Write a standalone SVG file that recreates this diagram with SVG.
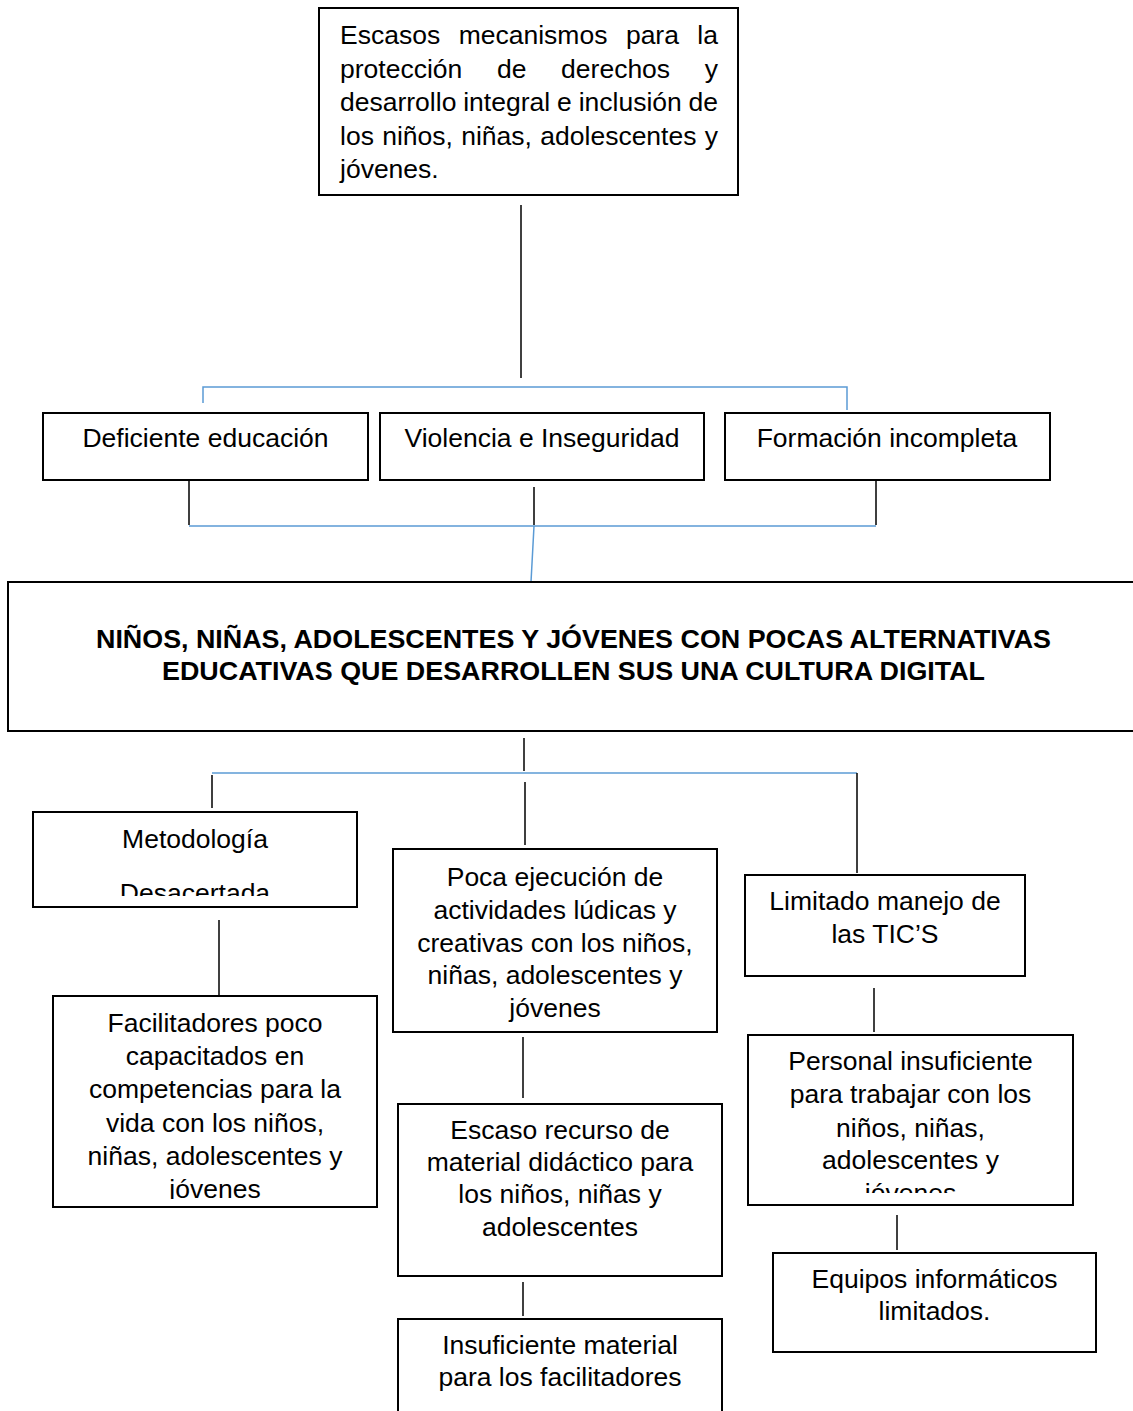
<svg xmlns="http://www.w3.org/2000/svg" width="1133" height="1411" viewBox="0 0 1133 1411">
<style>
.box{fill:#fff;stroke:#000;stroke-width:2}
.t{font-family:"Liberation Sans",Arial,sans-serif;font-size:26.5px;fill:#000}
.c{text-anchor:middle}
.b{font-weight:bold;font-size:26px}
.k{stroke:#000;stroke-width:1.5;fill:none}
.bl{stroke:#5b9bd5;stroke-width:1.5;fill:none}
</style>
<defs>
<clipPath id="clipMet"><rect x="33" y="812" width="324" height="84"/></clipPath>
<clipPath id="clipFac"><rect x="53" y="996" width="324" height="203"/></clipPath>
<clipPath id="clipPer"><rect x="748" y="1035" width="325" height="158"/></clipPath>
</defs>
<rect width="1133" height="1411" fill="#fff"/>
<g id="connectors">
<path class="k" d="M521,205V378"/>
<path class="bl" d="M203,403V387H847V410"/>
<path class="k" d="M189,480V525M534,487V525M876,480V525"/>
<path class="bl" d="M189,526H876M534,526L531,582"/>
<path class="k" d="M524,738V771"/>
<path class="bl" d="M212,773H857"/>
<path class="k" d="M212,775V808M525,782V845M857,773V873"/>
<path class="k" d="M219,920V996"/>
<path class="k" d="M523,1037V1098"/>
<path class="k" d="M523,1282V1316"/>
<path class="k" d="M874,988V1032"/>
<path class="k" d="M897,1215V1250"/>
</g>
<g id="n-top">
<rect class="box" x="319" y="8" width="419" height="187"/>
<text class="t" y="44"><tspan x="340">Escasos</tspan><tspan x="458.7">mecanismos</tspan><tspan x="625.9">para</tspan><tspan x="718" text-anchor="end">la</tspan></text>
<text class="t" y="78"><tspan x="340">protección</tspan><tspan x="496.9">de</tspan><tspan x="561.1">derechos</tspan><tspan x="718" text-anchor="end">y</tspan></text>
<text class="t" y="111"><tspan x="340">desarrollo</tspan><tspan x="463.2">integral</tspan><tspan x="557">e</tspan><tspan x="578.7">inclusión</tspan><tspan x="718" text-anchor="end">de</tspan></text>
<text class="t" y="145"><tspan x="340">los</tspan><tspan x="382.2">niños,</tspan><tspan x="461.2">niñas,</tspan><tspan x="540.3">adolescentes</tspan><tspan x="718" text-anchor="end">y</tspan></text>
<text class="t" x="340" y="178">jóvenes.</text>
</g>
<g id="n-deficiente">
<rect class="box" x="43" y="413" width="325" height="67"/>
<text class="t c" x="205.5" y="447">Deficiente educación</text>
</g>
<g id="n-violencia">
<rect class="box" x="380" y="413" width="324" height="67"/>
<text class="t c" x="542" y="447">Violencia e Inseguridad</text>
</g>
<g id="n-formacion">
<rect class="box" x="725" y="413" width="325" height="67"/>
<text class="t c" x="887" y="447">Formación incompleta</text>
</g>
<g id="n-central">
<rect class="box" x="8" y="582" width="1140" height="149"/>
<text class="t c b" x="573.5" y="648" textLength="955" lengthAdjust="spacingAndGlyphs">NIÑOS, NIÑAS, ADOLESCENTES Y JÓVENES CON POCAS ALTERNATIVAS</text>
<text class="t c b" x="573.5" y="680" textLength="823" lengthAdjust="spacingAndGlyphs">EDUCATIVAS QUE DESARROLLEN SUS UNA CULTURA DIGITAL</text>
</g>
<g id="n-metodologia">
<rect class="box" x="33" y="812" width="324" height="95"/>
<g clip-path="url(#clipMet)">
<text class="t c" x="195" y="848">Metodología</text>
<text class="t c" x="195" y="902">Desacertada</text>
</g>
</g>
<g id="n-facilitadores">
<rect class="box" x="53" y="996" width="324" height="211"/>
<g clip-path="url(#clipFac)">
<text class="t c" x="215" y="1032">Facilitadores poco</text>
<text class="t c" x="215" y="1065">capacitados en</text>
<text class="t c" x="215" y="1098">competencias para la</text>
<text class="t c" x="215" y="1132">vida con los niños,</text>
<text class="t c" x="215" y="1165">niñas, adolescentes y</text>
<text class="t c" x="215" y="1198">jóvenes</text>
</g>
</g>
<g id="n-poca">
<rect class="box" x="393" y="849" width="324" height="183"/>
<text class="t c" x="555" y="886">Poca ejecución de</text>
<text class="t c" x="555" y="919">actividades lúdicas y</text>
<text class="t c" x="555" y="952">creativas con los niños,</text>
<text class="t c" x="555" y="984">niñas, adolescentes y</text>
<text class="t c" x="555" y="1017">jóvenes</text>
</g>
<g id="n-escaso">
<rect class="box" x="398" y="1104" width="324" height="172"/>
<text class="t c" x="560" y="1139">Escaso recurso de</text>
<text class="t c" x="560" y="1171">material didáctico para</text>
<text class="t c" x="560" y="1203">los niños, niñas y</text>
<text class="t c" x="560" y="1236">adolescentes</text>
</g>
<g id="n-insuficiente">
<rect class="box" x="398" y="1319" width="324" height="110"/>
<text class="t c" x="560" y="1354">Insuficiente material</text>
<text class="t c" x="560" y="1386">para los facilitadores</text>
</g>
<g id="n-limitado">
<rect class="box" x="745" y="875" width="280" height="101"/>
<text class="t c" x="885" y="910">Limitado manejo de</text>
<text class="t c" x="885" y="943">las TIC’S</text>
</g>
<g id="n-personal">
<rect class="box" x="748" y="1035" width="325" height="170"/>
<g clip-path="url(#clipPer)">
<text class="t c" x="910.5" y="1070">Personal insuficiente</text>
<text class="t c" x="910.5" y="1103">para trabajar con los</text>
<text class="t c" x="910.5" y="1137">niños, niñas,</text>
<text class="t c" x="910.5" y="1169">adolescentes y</text>
<text class="t c" x="910.5" y="1202">jóvenes</text>
</g>
</g>
<g id="n-equipos">
<rect class="box" x="773" y="1253" width="323" height="99"/>
<text class="t c" x="934.5" y="1288">Equipos informáticos</text>
<text class="t c" x="934.5" y="1320">limitados.</text>
</g>
</svg>
